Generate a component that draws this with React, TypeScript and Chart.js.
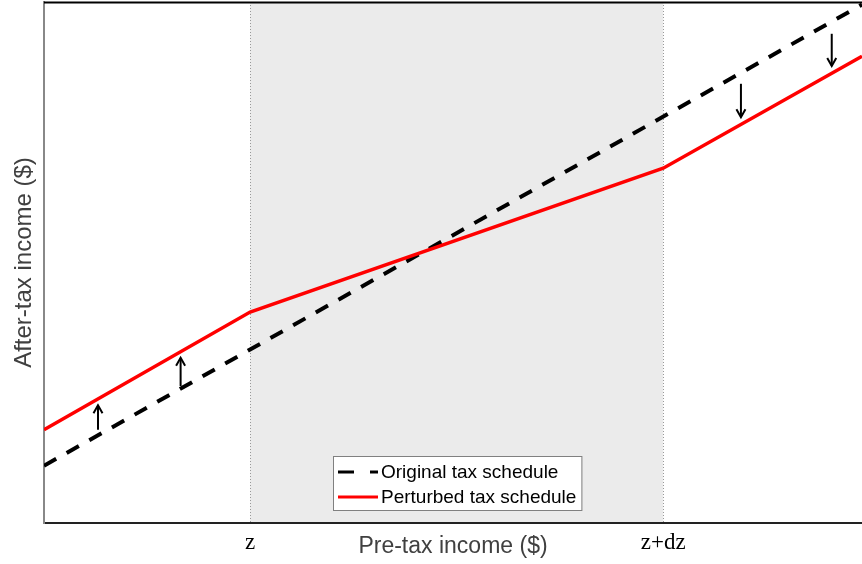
import { useEffect, useRef } from "react";
import { Chart, registerables } from "chart.js";

Chart.register(...registerables);

// Pre-tax income axis runs 0..100; the perturbed bracket is [z, z + dz]
const incomeBreaks = [0, 25.2, 75.7, 100];
const bracketStart = 25.2;
const bracketEnd = 75.7;
const tickLabels = ["z", "z+dz"];

// After-tax income for each schedule
const originalX = [0, 100];
const originalY = [11, 99.5];
const perturbedY = [17.9, 40.5, 68.1, 89.6];

// Arrows showing the shift from the original to the perturbed schedule
const arrowX = [6.6, 16.7, 85.2, 96.3];
const arrowFrom = [17.9, 26.3, 84.3, 93.9];
const arrowTo = [22.6, 31.7, 77.9, 87.7];

const seriesNames = ["Original tax schedule", "Perturbed tax schedule"];

const bracketPlugin = {
  id: "bracketShade",
  beforeDatasetsDraw(chart: any) {
    const { ctx, chartArea, scales } = chart;
    const x0 = scales.x.getPixelForValue(bracketStart);
    const x1 = scales.x.getPixelForValue(bracketEnd);
    ctx.save();
    ctx.fillStyle = "#ebebeb";
    ctx.fillRect(x0, chartArea.top, x1 - x0, chartArea.bottom - chartArea.top - 1);
    ctx.strokeStyle = "#999999";
    ctx.lineWidth = 1;
    ctx.setLineDash([1, 2]);
    for (const x of [x0, x1]) {
      ctx.beginPath();
      ctx.moveTo(Math.round(x) + 0.5, chartArea.top);
      ctx.lineTo(Math.round(x) + 0.5, chartArea.bottom);
      ctx.stroke();
    }
    ctx.restore();
  },
};

const arrowPlugin = {
  id: "shiftArrows",
  afterDatasetsDraw(chart: any) {
    const { ctx, scales } = chart;
    ctx.save();
    ctx.strokeStyle = "#000000";
    ctx.lineWidth = 2;
    ctx.setLineDash([]);
    arrowX.forEach((xv, i) => {
      const x = scales.x.getPixelForValue(xv);
      const y0 = scales.y.getPixelForValue(arrowFrom[i]);
      const y1 = scales.y.getPixelForValue(arrowTo[i]);
      const dir = y1 < y0 ? 1 : -1;
      ctx.beginPath();
      ctx.moveTo(x, y0);
      ctx.lineTo(x, y1);
      ctx.stroke();
      ctx.beginPath();
      ctx.moveTo(x - 4.5, y1 + dir * 8);
      ctx.lineTo(x, y1);
      ctx.lineTo(x + 4.5, y1 + dir * 8);
      ctx.stroke();
    });
    ctx.restore();
  },
};

const framePlugin = {
  id: "frameAndLegend",
  afterDraw(chart: any) {
    const { ctx, chartArea } = chart;
    ctx.save();
    // top frame line
    ctx.strokeStyle = "#000000";
    ctx.lineWidth = 2;
    ctx.beginPath();
    ctx.moveTo(chartArea.left, chartArea.top + 0.5);
    ctx.lineTo(chartArea.right, chartArea.top + 0.5);
    ctx.stroke();

    // legend box
    ctx.font = "19px 'Liberation Sans', Arial, sans-serif";
    const textW = Math.max(...seriesNames.map((s) => ctx.measureText(s).width));
    const w = 5 + 40 + 3 + textW + 5;
    const h = 54;
    const left = Math.round((chartArea.left + chartArea.right) / 2 - w / 2 + 4);
    const top = Math.round(chartArea.bottom - 13 - h);
    ctx.fillStyle = "#ffffff";
    ctx.fillRect(left, top, w, h);
    ctx.strokeStyle = "#808080";
    ctx.lineWidth = 1;
    ctx.strokeRect(left + 0.5, top + 0.5, w, h);

    const rows = [top + 16, top + 41];
    const colors = ["#000000", "#ff0000"];
    const dashes = [[16, 16], []];
    rows.forEach((ry, i) => {
      ctx.save();
      ctx.beginPath();
      ctx.rect(left + 5, ry - 3, 40, 6);
      ctx.clip();
      ctx.strokeStyle = colors[i];
      ctx.lineWidth = 3;
      ctx.setLineDash(dashes[i]);
      ctx.beginPath();
      ctx.moveTo(left + 5, ry);
      ctx.lineTo(left + 45, ry);
      ctx.stroke();
      ctx.restore();
      ctx.fillStyle = "#000000";
      ctx.textBaseline = "middle";
      ctx.textAlign = "left";
      ctx.fillText(seriesNames[i], left + 48, ry + 1);
    });
    ctx.restore();
  },
};

export default function App() {
  const canvasRef = useRef<HTMLCanvasElement | null>(null);

  useEffect(() => {
    document.body.style.margin = "0";
    const canvas = canvasRef.current;
    if (!canvas) return;
    const chart = new Chart(canvas, {
      type: "line",
      data: {
        datasets: [
          {
            label: seriesNames[0],
            data: originalX.map((x, i) => ({ x, y: originalY[i] })),
            borderColor: "#000000",
            borderWidth: 4,
            borderDash: [14, 12],
            pointRadius: 0,
            fill: false,
            order: 2,
          },
          {
            label: seriesNames[1],
            data: incomeBreaks.map((x, i) => ({ x, y: perturbedY[i] })),
            borderColor: "#ff0000",
            borderWidth: 3.5,
            pointRadius: 0,
            fill: false,
            order: 1,
          },
        ],
      },
      options: {
        animation: false,
        responsive: false,
        maintainAspectRatio: false,
        layout: { padding: { top: 2, right: 0, left: 0, bottom: 0 } },
        plugins: {
          legend: { display: false },
          tooltip: { enabled: false },
        },
        scales: {
          x: {
            type: "linear",
            min: 0,
            max: 100,
            grid: { display: false, drawTicks: false },
            border: { display: true, color: "#222222", width: 2 },
            afterBuildTicks: (scale: any) => {
              scale.ticks = [{ value: bracketStart }, { value: bracketEnd }];
            },
            ticks: {
              autoSkip: false,
              maxRotation: 0,
              padding: 6,
              color: "#000000",
              font: { family: "'Liberation Serif', 'Times New Roman', serif", size: 23 },
              callback: (value: any) =>
                value === bracketStart ? tickLabels[0] : value === bracketEnd ? tickLabels[1] : "",
            },
            title: {
              display: true,
              text: "Pre-tax income ($)",
              color: "#404040",
              font: { family: "'Liberation Sans', Arial, sans-serif", size: 23 },
              padding: { top: 0, bottom: 4 },
            },
            afterFit: (scale: any) => {
              scale.height = 41;
            },
          },
          y: {
            type: "linear",
            min: 0,
            max: 100,
            grid: { display: false, drawTicks: false },
            border: { display: true, color: "#888888", width: 2 },
            ticks: { display: false },
            title: {
              display: true,
              text: "After-tax income ($)",
              color: "#404040",
              font: { family: "'Liberation Sans', Arial, sans-serif", size: 24 },
              padding: { top: 10, bottom: 0 },
            },
            afterFit: (scale: any) => {
              scale.width = 44;
            },
          },
        },
      },
      plugins: [bracketPlugin, arrowPlugin, framePlugin],
    });
    return () => chart.destroy();
  }, []);

  return (
    <div style={{ width: 862, height: 564 }}>
      <canvas ref={canvasRef} width={862} height={564} style={{ display: "block" }} />
    </div>
  );
}
